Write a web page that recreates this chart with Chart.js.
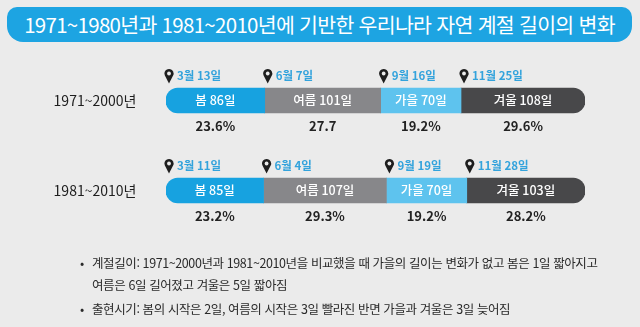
<!DOCTYPE html>
<html lang="ko">
<head>
<meta charset="utf-8">
<script src="https://cdn.jsdelivr.net/npm/chart.js@4.4.1/dist/chart.umd.min.js"></script>
<style>
  html, body { margin: 0; padding: 0; }
  body {
    width: 640px; height: 327px; overflow: hidden; position: relative;
    background: #ebebeb;
    font-family: 'Noto Sans CJK KR', 'Noto Sans', sans-serif;
  }
  #title {
    position: absolute; left: 7px; top: 7px; width: 625px; height: 35px;
    background: #1da4e2; color: #fff;
    border-radius: 10px 10px 16px 16px;
    font-size: 20.5px; line-height: 34px; text-align: center;
    letter-spacing: -0.7px; white-space: nowrap;
  }
  #chart { position: absolute; left: 0; top: 0; }
  #notes {
    position: absolute; left: 80px; top: 252px; color: #2a2a2a;
    font-size: 12.5px; letter-spacing: -0.4px;
  }
  #notes div { position: relative; padding-left: 12px; white-space: nowrap; }
  #notes .b::before { content: '•'; position: absolute; left: 0; }
</style>
</head>
<body>
<div id="title">1971~1980년과 1981~2010년에 기반한 우리나라 자연 계절 길이의 변화</div>
<canvas id="chart" width="640" height="327"></canvas>
<div id="notes">
  <div class="b" style="line-height:22px">계절길이: 1971~2000년과 1981~2010년을 비교했을 때 가을의 길이는 변화가 없고 봄은 1일 짧아지고</div>
  <div style="line-height:22px">여름은 6일 길어졌고 겨울은 5일 짧아짐</div>
  <div class="b" style="line-height:26px">출현시기: 봄의 시작은 2일, 여름의 시작은 3일 빨라진 반면 가을과 겨울은 3일 늦어짐</div>
</div>
<script>
// 데이터
const periods = ['1971~2000년', '1981~2010년'];
const seasonNames = ['봄', '여름', '가을', '겨울'];
const springDays = [86, 85];
const summerDays = [101, 107];
const autumnDays = [70, 70];
const winterDays = [108, 103];
const startDates = [
    ['3월 13일', '6월 7일', '9월 16일', '11월 25일'],
    ['3월 11일', '6월 4일', '9월 19일', '11월 28일']
];
const shares = [
    ['23.6%', '27.7', '19.2%', '29.6%'],
    ['23.2%', '29.3%', '19.2%', '28.2%']
];
const seasonColors = ['#17a2e0', '#87878a', '#5ec3ee', '#48484a'];

const FONT = "'Noto Sans CJK KR', 'Noto Sans', sans-serif";

// 핀 그리기
function drawPin(ctx, x, y) {
    ctx.save();
    ctx.fillStyle = '#1e1e1e';
    ctx.beginPath();
    ctx.arc(x, y, 4.6, Math.PI * 0.85, Math.PI * 2.15);
    ctx.lineTo(x, y + 10);
    ctx.closePath();
    ctx.fill();
    ctx.fillStyle = '#ebebeb';
    ctx.beginPath();
    ctx.arc(x, y, 1.9, 0, Math.PI * 2);
    ctx.fill();
    ctx.restore();
}

const labelPlugin = {
    id: 'seasonLabels',
    afterDatasetsDraw(chart) {
        const ctx = chart.ctx;
        const yScale = chart.scales.y;
        ctx.save();
        // 기간 라벨
        ctx.fillStyle = '#1e1e1e';
        ctx.font = '14px ' + FONT;
        ctx.textAlign = 'center';
        ctx.textBaseline = 'middle';
        periods.forEach((p, i) => {
            ctx.fillText(p, 95, yScale.getPixelForValue(i));
        });
        chart.data.datasets.forEach((ds, di) => {
            const meta = chart.getDatasetMeta(di);
            meta.data.forEach((bar, i) => {
                const left = Math.min(bar.x, bar.base);
                const right = Math.max(bar.x, bar.base);
                const cx = (left + right) / 2;
                // 막대 안 라벨
                ctx.fillStyle = '#fff';
                ctx.font = '500 12.5px ' + FONT;
                ctx.textAlign = 'center';
                ctx.fillText(seasonNames[di] + ' ' + ds.data[i] + '일', cx, bar.y);
                // 비율
                ctx.fillStyle = '#222';
                ctx.font = '600 13px ' + FONT;
                ctx.fillText(shares[i][di], cx, bar.y + 25.5);
                // 시작일 핀
                drawPin(ctx, left + 3, bar.y - 27);
                ctx.fillStyle = '#33a3dc';
                ctx.font = '600 11.5px ' + FONT;
                ctx.textAlign = 'left';
                ctx.fillText(startDates[i][di], left + 11, bar.y - 25);
            });
        });
        ctx.restore();
    }
};

const seasonData = [springDays, summerDays, autumnDays, winterDays];

new Chart(document.getElementById('chart'), {
    type: 'bar',
    data: {
        labels: periods,
        datasets: seasonData.map((d, i) => ({
            label: seasonNames[i],
            data: d,
            backgroundColor: seasonColors[i],
            borderWidth: 0,
            borderSkipped: false,
            barThickness: 25,
            borderRadius: i === 0 ? { topLeft: 12, bottomLeft: 12, topRight: 0, bottomRight: 0 }
                : i === 3 ? { topLeft: 0, bottomLeft: 0, topRight: 12, bottomRight: 12 } : 0
        }))
    },
    options: {
        indexAxis: 'y',
        responsive: false,
        animation: false,
        layout: { padding: { left: 166, right: 55, top: 55.5, bottom: 91.5 } },
        plugins: { legend: { display: false }, tooltip: { enabled: false } },
        scales: {
            x: { stacked: true, min: 0, max: 365, display: false },
            y: { stacked: true, display: false }
        }
    },
    plugins: [labelPlugin]
});
</script>
</body>
</html>
